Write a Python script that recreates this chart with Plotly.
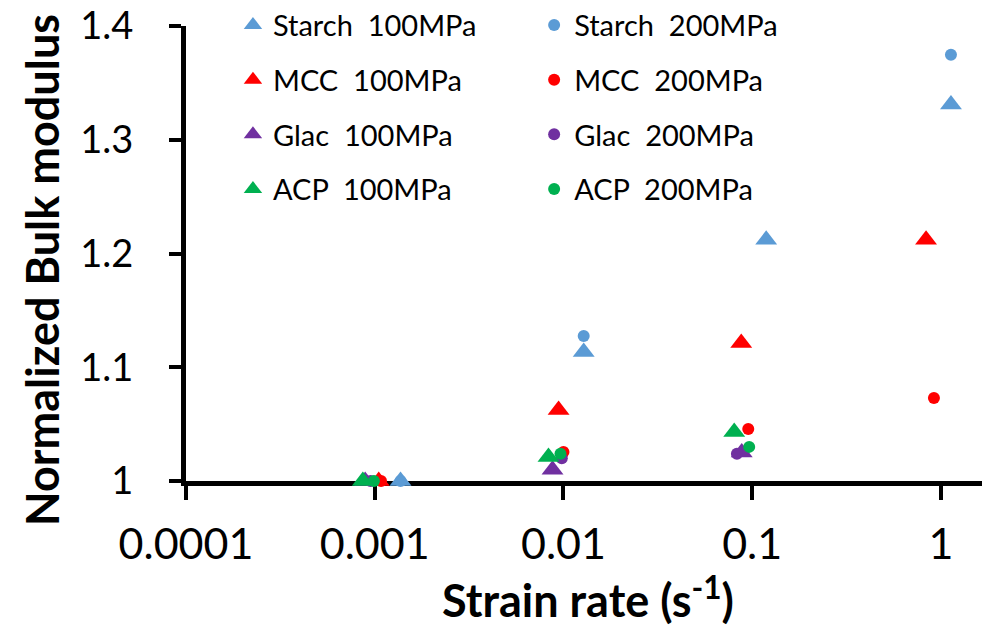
import plotly.graph_objects as go

# ---- data ----
starch100_x = [0.00137, 0.0128, 0.1186, 1.13]
starch100_y = [1.0, 1.1135, 1.212, 1.331]
starch200_x = [0.00137, 0.0128, 1.13]
starch200_y = [1.0, 1.1275, 1.3747]

mcc100_x = [0.00105, 0.00942, 0.0875, 0.834]
mcc100_y = [1.0, 1.0624, 1.1214, 1.212]
mcc200_x = [0.00108, 0.0100, 0.0953, 0.918]
mcc200_y = [1.0, 1.0255, 1.0457, 1.073]

glac100_x = [0.00089, 0.00875, 0.088]
glac100_y = [1.0, 1.010, 1.025]
glac200_x = [0.00095, 0.0098, 0.083]
glac200_y = [1.0, 1.020, 1.024]

acp100_x = [0.000865, 0.00833, 0.0803]
acp100_y = [1.0, 1.021, 1.043]
acp200_x = [0.00099, 0.00964, 0.0964]
acp200_y = [1.0, 1.024, 1.030]

x_tickvals = [0.0001, 0.001, 0.01, 0.1, 1]
x_ticktext = ["0.0001", "0.001", "0.01", "0.1", "1"]
y_tickvals = [1.0, 1.1, 1.2, 1.3, 1.4]
y_ticktext = ["1", "1.1", "1.2", "1.3", "1.4"]

BLUE, RED, PURPLE, GREEN = "#5B9BD5", "#FF0000", "#7030A0", "#00B050"
FONT = "Lato"
NB = "\u00a0"

series = [
    ("Starch" + NB * 2 + "100MPa", starch100_x, starch100_y, BLUE, "triangle-up", "legend"),
    ("Starch" + NB * 2 + "200MPa", starch200_x, starch200_y, BLUE, "circle", "legend2"),
    ("MCC" + NB * 2 + "100MPa", mcc100_x, mcc100_y, RED, "triangle-up", "legend"),
    ("MCC" + NB * 2 + "200MPa", mcc200_x, mcc200_y, RED, "circle", "legend2"),
    ("Glac" + NB * 2 + "100MPa", glac100_x, glac100_y, PURPLE, "triangle-up", "legend"),
    ("Glac" + NB * 2 + "200MPa", glac200_x, glac200_y, PURPLE, "circle", "legend2"),
    ("ACP" + NB * 2 + "100MPa", acp100_x, acp100_y, GREEN, "triangle-up", "legend"),
    ("ACP" + NB * 2 + "200MPa", acp200_x, acp200_y, GREEN, "circle", "legend2"),
]

fig = go.Figure()
for i, (name, xs, ys, col, sym, lg) in enumerate(series):
    fig.add_trace(go.Scatter(
        x=xs, y=ys, mode="markers", name=name, legend=lg, legendgroup="g%d" % i,
        cliponaxis=False,
        marker=dict(symbol=sym, color=col, size=19 if sym == "triangle-up" else 12,
                    line=dict(width=0)),
    ))

leg_common = dict(xanchor="left", yanchor="top", xref="paper", yref="paper",
                  font=dict(size=29, family=FONT), tracegroupgap=14,
                  bgcolor="rgba(0,0,0,0)", itemwidth=30)

fig.update_layout(
    width=990, height=630,
    margin=dict(l=178, r=8, t=18, b=157, autoexpand=False),
    paper_bgcolor="white", plot_bgcolor="white",
    font=dict(family=FONT, color="black"),
    legend=dict(x=0.0584, y=1.058, **leg_common),
    legend2=dict(x=0.433, y=1.058, **leg_common),
    xaxis=dict(type="log", range=[-4, 0.26], tickvals=x_tickvals, ticktext=x_ticktext,
               showgrid=False, zeroline=False, showline=True, linecolor="black", linewidth=5,
               ticks="outside", ticklen=14, tickwidth=4, tickcolor="black", tickangle=0,
               tickfont=dict(size=43, family=FONT), layer="below traces", automargin=False,
               ticklabelstandoff=7, ticklabeloverflow="allow",
               title=dict(text="<b>Strain rate (s<sup>-1</sup>)</b>",
                          font=dict(size=45, family=FONT), standoff=19)),
    yaxis=dict(range=[1.0, 1.4], tickvals=y_tickvals, ticktext=y_ticktext,
               showgrid=False, zeroline=False, showline=True, linecolor="black", linewidth=5,
               ticks="outside", ticklen=12, tickwidth=4, tickcolor="black",
               tickfont=dict(size=38, family=FONT), layer="below traces", automargin=False,
               ticklabelstandoff=28, ticklabeloverflow="allow"),
    annotations=[dict(text="<b>Normalized Bulk modulus</b>", textangle=-90,
                      xref="paper", yref="paper", x=0, y=0.4637,
                      xanchor="center", yanchor="middle", xshift=-144,
                      showarrow=False, font=dict(size=45, family=FONT, color="black"))],
)

fig.write_html("out.html")
